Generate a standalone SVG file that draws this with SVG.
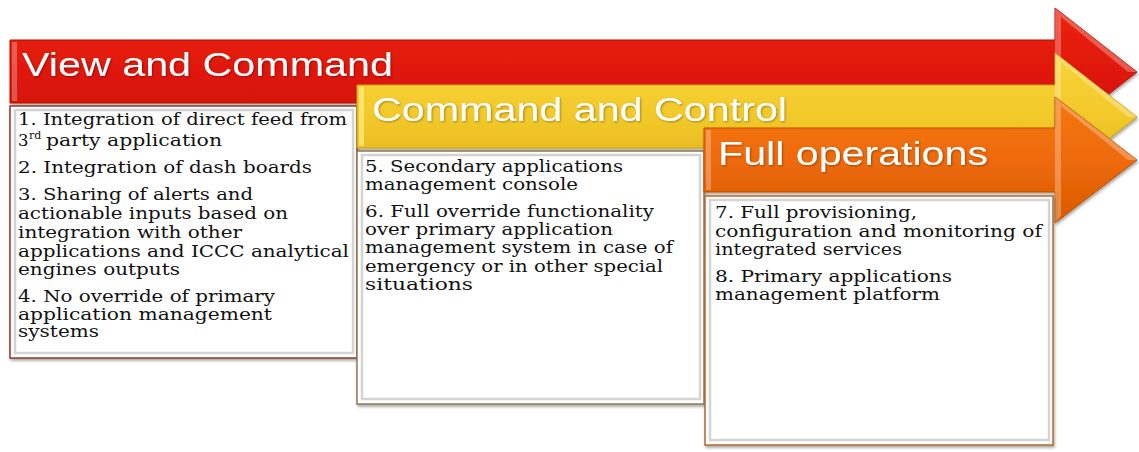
<svg xmlns="http://www.w3.org/2000/svg" width="1139" height="452" viewBox="0 0 1139 452">
<defs>
<linearGradient id="gRed" x1="0" y1="0" x2="0" y2="1">
<stop offset="0" stop-color="#ea2410"/><stop offset="0.5" stop-color="#e01808"/><stop offset="1" stop-color="#c81005"/>
</linearGradient>
<linearGradient id="gYel" x1="0" y1="0" x2="0" y2="1">
<stop offset="0" stop-color="#f8d43a"/><stop offset="0.5" stop-color="#f2c92a"/><stop offset="1" stop-color="#e2b21c"/>
</linearGradient>
<linearGradient id="gOra" x1="0" y1="0" x2="0" y2="1">
<stop offset="0" stop-color="#f4780e"/><stop offset="0.5" stop-color="#ee6a08"/><stop offset="1" stop-color="#d85a04"/>
</linearGradient>
<filter id="sh" x="-5%" y="-5%" width="110%" height="115%">
<feDropShadow dx="1" dy="2" stdDeviation="1.5" flood-color="#000" flood-opacity="0.35"/>
</filter>
<filter id="tsh" x="-5%" y="-20%" width="110%" height="140%">
<feDropShadow dx="1" dy="1" stdDeviation="0.8" flood-color="#000" flood-opacity="0.35"/>
</filter>
</defs>
<style>
.title{font-family:"Liberation Sans",Arial,sans-serif;font-size:34px;fill:#fff;}
.body{font-family:"DejaVu Serif","Liberation Serif",serif;font-size:16.5px;fill:#111;}
.sup{font-family:"DejaVu Serif","Liberation Serif",serif;font-size:11px;fill:#111;}
.inner{fill:none;stroke:#d4d4d4;stroke-width:2.5;}
.hl{fill:#fff;opacity:0.28;}
</style>

<g id="connectors"></g>

<g id="view-and-command">
<path d="M10,40 H1055 V8 L1137,72 L1055,136 V103 H10 Z" fill="url(#gRed)" stroke="#b01005" stroke-width="1" filter="url(#sh)"/>
<rect x="12" y="42" width="5" height="59" class="hl"/>
<path d="M1055,8 L1061,17 V129 L1055,136 Z" class="hl"/>
<path d="M1055,8 L1137,72 L1128,72 L1061,17 Z" class="hl"/>
<text class="title" x="22" y="76" textLength="371" lengthAdjust="spacingAndGlyphs" filter="url(#tsh)">View and Command</text>
<rect x="10" y="106" width="347" height="252" fill="#fff" stroke="#8a3b2c" stroke-width="1.5" filter="url(#sh)"/>
<rect x="15" y="110" width="338" height="243" class="inner"/>
<text class="body" x="18" y="125" textLength="329" lengthAdjust="spacingAndGlyphs">1. Integration of direct feed from</text>
<text class="body" x="18" y="146">3</text>
<text class="sup" x="29" y="139">rd</text>
<text class="body" x="46" y="146" textLength="176" lengthAdjust="spacingAndGlyphs">party application</text>
<text class="body">
<tspan x="18" y="173" textLength="294" lengthAdjust="spacingAndGlyphs">2. Integration of dash boards</tspan>
<tspan x="18" y="200" textLength="235" lengthAdjust="spacingAndGlyphs">3. Sharing of alerts and</tspan>
<tspan x="18" y="219" textLength="270" lengthAdjust="spacingAndGlyphs">actionable inputs based on</tspan>
<tspan x="18" y="238" textLength="224" lengthAdjust="spacingAndGlyphs">integration with other</tspan>
<tspan x="18" y="257" textLength="331" lengthAdjust="spacingAndGlyphs">applications and ICCC analytical</tspan>
<tspan x="18" y="275" textLength="162" lengthAdjust="spacingAndGlyphs">engines outputs</tspan>
<tspan x="18" y="302" textLength="257" lengthAdjust="spacingAndGlyphs">4. No override of primary</tspan>
<tspan x="18" y="320" textLength="254" lengthAdjust="spacingAndGlyphs">application management</tspan>
<tspan x="18" y="337" textLength="81" lengthAdjust="spacingAndGlyphs">systems</tspan>
</text>
</g>

<g id="command-and-control">
<path d="M357,85 H1055 V53 L1137,117 L1055,181 V148 H357 Z" fill="url(#gYel)" stroke="#c9a015" stroke-width="1" filter="url(#sh)"/>
<rect x="359" y="87" width="5" height="59" fill="#fff59a" opacity="0.6"/>
<path d="M1055,53 L1061,62 V174 L1055,181 Z" class="hl"/>
<path d="M1055,53 L1137,117 L1128,117 L1061,62 Z" class="hl"/>
<text class="title" x="372" y="121" textLength="415" lengthAdjust="spacingAndGlyphs" filter="url(#tsh)">Command and Control</text>
<rect x="357" y="151" width="347" height="253" fill="#fff" stroke="#8c7a55" stroke-width="1.5" filter="url(#sh)"/>
<rect x="362" y="155" width="338" height="244" class="inner"/>
<text class="body">
<tspan x="365" y="172" textLength="258" lengthAdjust="spacingAndGlyphs">5. Secondary applications</tspan>
<tspan x="365" y="190" textLength="213" lengthAdjust="spacingAndGlyphs">management console</tspan>
<tspan x="365" y="217" textLength="289" lengthAdjust="spacingAndGlyphs">6. Full override functionality</tspan>
<tspan x="365" y="235" textLength="248" lengthAdjust="spacingAndGlyphs">over primary application</tspan>
<tspan x="365" y="253" textLength="308" lengthAdjust="spacingAndGlyphs">management system in case of</tspan>
<tspan x="365" y="272" textLength="298" lengthAdjust="spacingAndGlyphs">emergency or in other special</tspan>
<tspan x="365" y="290" textLength="108" lengthAdjust="spacingAndGlyphs">situations</tspan>
</text>
</g>

<g id="full-operations">
<path d="M704,128 H1055 V97 L1137,160 L1055,223 V192 H704 Z" fill="url(#gOra)" stroke="#c05004" stroke-width="1" filter="url(#sh)"/>
<rect x="706" y="130" width="5" height="60" class="hl"/>
<path d="M1055,97 L1061,106 V216 L1055,223 Z" class="hl"/>
<path d="M1055,97 L1137,160 L1128,160 L1061,106 Z" class="hl"/>
<text class="title" x="718" y="165" textLength="270" lengthAdjust="spacingAndGlyphs" filter="url(#tsh)">Full operations</text>
<rect x="705" y="196" width="348" height="249" fill="#fff" stroke="#b0692c" stroke-width="1.5" filter="url(#sh)"/>
<rect x="710" y="200" width="339" height="240" class="inner"/>
<text class="body">
<tspan x="715" y="218" textLength="202" lengthAdjust="spacingAndGlyphs">7. Full provisioning,</tspan>
<tspan x="715" y="237" textLength="327" lengthAdjust="spacingAndGlyphs">configuration and monitoring of</tspan>
<tspan x="715" y="255" textLength="187" lengthAdjust="spacingAndGlyphs">integrated services</tspan>
<tspan x="715" y="282" textLength="237" lengthAdjust="spacingAndGlyphs">8. Primary applications</tspan>
<tspan x="715" y="300" textLength="225" lengthAdjust="spacingAndGlyphs">management platform</tspan>
</text>
</g>
</svg>
